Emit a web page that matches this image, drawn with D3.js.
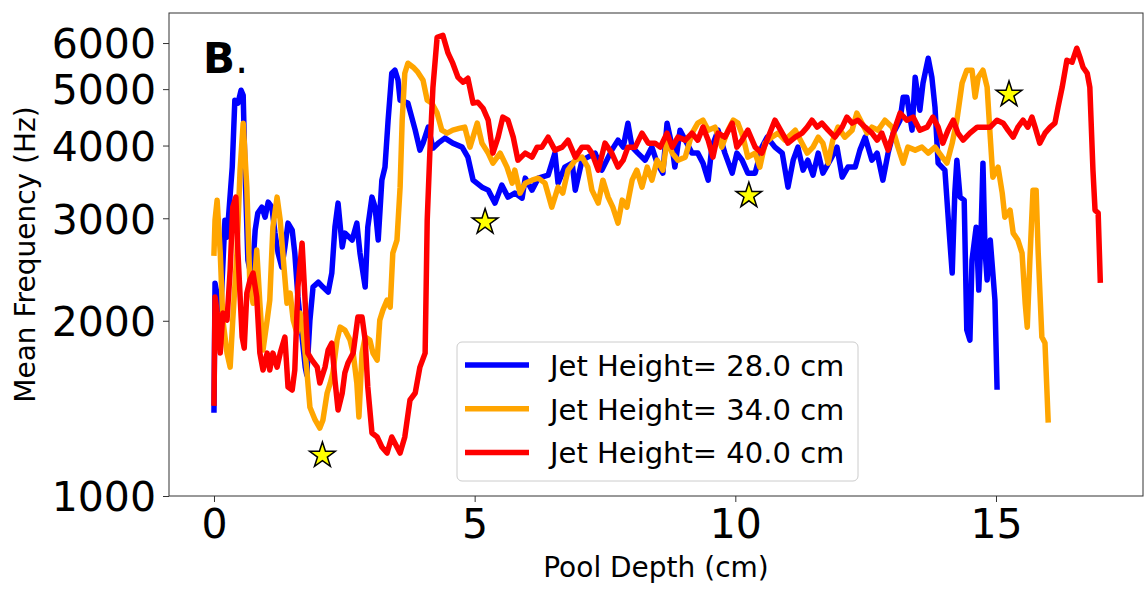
<!DOCTYPE html>
<html>
<head>
<meta charset="utf-8">
<script src="https://cdn.jsdelivr.net/npm/d3@7"></script>
<style>
    body { margin: 0; background: #fff; }
    svg { display: block; font-family: "DejaVu Sans", sans-serif; }
</style>
</head>
<body>
<svg id="graphe" width="1144" height="592"></svg>
<script>
// DONNÉES : [profondeur (cm), fréquence moyenne (Hz)]
const jet28 = [[0,1405],[0.02,2321],[0.08,2170],[0.13,2086],[0.21,2978],[0.25,2784],[0.35,3673],[0.40,4786],[0.46,4730],[0.52,4979],
    [0.56,4880],[0.59,3775],[0.65,2542],[0.73,2349],[0.79,2862],[0.84,3062],[0.92,3135],[0.98,3013],[1.04,3198],[1.11,3135],
    [1.17,2829],[1.23,2614],[1.30,2473],[1.36,2677],[1.42,2943],[1.50,2862],[1.55,2614],[1.61,2197],[1.69,1875],[1.75,1665],
    [1.78,1614],[1.84,2005],[1.90,2285],[2.00,2330],[2.09,2285],[2.19,2240],[2.26,2415],[2.32,2896],[2.38,3185],[2.46,2677],
    [2.51,2829],[2.65,2752],[2.74,2943],[2.80,2614],[2.90,2285],[2.95,2896],[3.03,3262],[3.09,3135],[3.15,2752],[3.22,3488],
    [3.28,3673],[3.34,4422],[3.41,5325],[3.47,5389],[3.53,5180],[3.57,4786],[3.72,4730],[3.86,4251],[3.95,3928],[4.01,4038],
    [4.11,4302],[4.20,3959],[4.30,4038],[4.43,4119],[4.58,4038],[4.76,3975],[4.87,3821],[4.97,3488],[5.14,3393],[5.26,3353],
    [5.39,3185],[5.52,3420],[5.64,3262],[5.77,3314],[5.91,3249],[5.97,3516],[6.10,3353],[6.22,3516],[6.41,3558],[6.54,3882],
    [6.60,3447],[6.73,3673],[6.87,3731],[6.93,3353],[7.06,3775],[7.17,3821],[7.31,3882],[7.44,3629],[7.63,3928],[7.75,4086],
    [7.85,3975],[7.94,4370],[8.02,3975],[8.13,3882],[8.27,3775],[8.40,3975],[8.50,3731],[8.61,3586],[8.69,4370],[8.79,3975],
    [8.84,3673],[8.94,4251],[9.04,4086],[9.17,3882],[9.28,3882],[9.38,3731],[9.48,3488],[9.55,3975],[9.67,4251],[9.80,3882],
    [9.94,3586],[10.03,3882],[10.13,3775],[10.24,3586],[10.38,3586],[10.51,3975],[10.61,4135],[10.76,3975],[10.90,3882],[11.01,3393],
    [11.11,3775],[11.20,3975],[11.30,3629],[11.39,3775],[11.49,3558],[11.59,3882],[11.68,3586],[11.82,3775],[11.95,3975],[12.05,3530],
    [12.16,3673],[12.30,3673],[12.39,3928],[12.49,4135],[12.62,3775],[12.72,3882],[12.83,3488],[12.93,3882],[13.03,4201],[13.16,4422],
    [13.22,4844],[13.29,4844],[13.39,4251],[13.45,5241],[13.54,4601],[13.60,5119],[13.70,5651],[13.77,5241],[13.83,4655],[13.89,3731],
    [14.02,3629],[14.10,2862],[14.16,2415],[14.21,3314],[14.25,3775],[14.31,3262],[14.39,3223],[14.44,1928],[14.50,1853],[14.54,2542],
    [14.62,2896],[14.67,2258],[14.71,2752],[14.75,3731],[14.79,2645],[14.83,2349],[14.89,2752],[14.94,2415],[14.98,2170],[15.02,1539]]

const jet34 = [[0,2614],[0.02,2978],[0.06,3223],[0.12,2614],[0.17,2005],[0.25,1760],[0.31,1665],[0.36,2005],[0.44,2614],[0.50,3629],
    [0.56,4370],[0.63,3393],[0.69,2285],[0.75,2144],[0.82,2645],[0.88,2144],[0.94,1781],[1.02,2005],[1.07,2170],[1.13,2896],
    [1.21,3262],[1.27,2978],[1.32,2614],[1.40,2144],[1.46,2231],[1.52,2005],[1.59,1905],[1.65,2062],[1.71,1905],[1.78,1646],
    [1.84,1421],[1.94,1351],[2.03,1308],[2.09,1351],[2.17,1503],[2.23,1563],[2.28,1627],[2.36,1853],[2.42,1950],[2.51,1928],
    [2.61,1853],[2.67,1760],[2.74,1563],[2.78,1367],[2.84,1760],[2.90,1875],[2.99,1853],[3.05,1760],[3.13,1712],[3.18,2005],
    [3.24,2086],[3.32,2170],[3.38,2110],[3.43,2614],[3.51,2752],[3.57,3393],[3.61,4422],[3.66,5325],[3.72,5540],[3.82,5453],
    [3.91,5346],[4.01,5180],[4.09,4786],[4.18,4730],[4.28,4547],[4.37,4251],[4.47,4201],[4.58,4251],[4.72,4285],[4.81,4302],
    [4.91,3975],[5.05,4370],[5.14,4038],[5.26,3882],[5.35,3731],[5.49,3882],[5.62,3673],[5.72,3447],[5.77,3629],[5.87,3314],
    [5.97,3447],[6.10,3488],[6.22,3516],[6.35,3447],[6.48,3135],[6.60,3393],[6.69,3314],[6.79,3629],[6.93,3775],[7.06,3821],
    [7.17,3673],[7.25,3353],[7.37,3185],[7.46,3488],[7.56,3262],[7.65,3135],[7.75,2943],[7.83,3223],[7.92,3135],[8.02,3488],
    [8.11,3629],[8.21,3393],[8.31,3673],[8.40,3488],[8.50,3775],[8.61,3629],[8.69,4086],[8.79,3882],[8.90,3775],[9.04,3821],
    [9.17,4201],[9.28,4370],[9.38,4422],[9.48,4251],[9.61,4302],[9.74,3975],[9.86,4251],[9.96,4422],[10.05,4370],[10.15,4135],
    [10.24,3821],[10.38,3882],[10.47,3673],[10.57,4038],[10.70,4135],[10.82,4201],[10.95,4086],[11.15,4251],[11.28,4038],[11.38,3882],
    [11.49,3975],[11.59,4135],[11.68,4038],[11.78,3731],[11.87,4086],[11.97,4302],[12.10,4135],[12.24,4251],[12.33,4547],[12.43,4370],
    [12.53,4201],[12.62,4302],[12.74,4251],[12.87,4422],[13.01,4302],[13.12,3975],[13.22,3731],[13.31,3975],[13.45,3928],[13.58,3975],
    [13.70,3882],[13.83,3975],[13.97,3821],[14.06,3731],[14.16,4038],[14.25,4422],[14.35,5119],[14.44,5389],[14.54,5389],[14.60,4844],
    [14.66,5241],[14.75,5389],[14.83,5039],[14.89,4135],[14.94,3530],[15.04,3673],[15.12,3314],[15.17,3013],[15.27,3098],[15.33,2829],
    [15.42,2752],[15.50,2614],[15.56,2144],[15.60,1950],[15.65,2542],[15.71,3353],[15.77,3353],[15.81,2614],[15.88,1875],[15.94,1831],
    [16.00,1351]]

const jet40 = [[0,1444],[0.02,2197],[0.08,2005],[0.12,1760],[0.17,2062],[0.25,2005],[0.31,2443],[0.36,3135],[0.42,3262],[0.46,2614],
    [0.54,1875],[0.58,1795],[0.63,2231],[0.69,2349],[0.75,2415],[0.82,2197],[0.88,1760],[0.94,1646],[1.02,1760],[1.07,1646],
    [1.13,1760],[1.21,1665],[1.27,1760],[1.36,1875],[1.42,1539],[1.50,1521],[1.55,1646],[1.61,2285],[1.69,2719],[1.75,2144],
    [1.80,1760],[1.88,1712],[1.98,1665],[2.03,1563],[2.13,1665],[2.19,1781],[2.26,1831],[2.32,1582],[2.38,1405],[2.46,1503],
    [2.51,1627],[2.57,1692],[2.67,1760],[2.76,2030],[2.84,2030],[2.90,1853],[2.95,1539],[3.03,1283],[3.13,1263],[3.22,1214],
    [3.32,1185],[3.41,1263],[3.51,1214],[3.57,1185],[3.66,1263],[3.76,1462],[3.86,1503],[3.95,1665],[4.05,1760],[4.09,2978],
    [4.14,3882],[4.20,5039],[4.28,6138],[4.39,6187],[4.49,5764],[4.58,5540],[4.68,5241],[4.78,5139],[4.87,5220],[4.97,4730],
    [5.06,4748],[5.16,4637],[5.26,4422],[5.35,3882],[5.45,4135],[5.54,4476],[5.64,4422],[5.74,4135],[5.83,3775],[5.97,3882],
    [6.10,3821],[6.20,3975],[6.29,3975],[6.41,4135],[6.54,3928],[6.68,3975],[6.79,4086],[6.93,3821],[7.06,3975],[7.17,3975],
    [7.25,3882],[7.37,3629],[7.50,4038],[7.63,3882],[7.75,3673],[7.85,3775],[7.94,3975],[8.08,3975],[8.21,4201],[8.33,4038],
    [8.46,4038],[8.56,3975],[8.69,4201],[8.79,3975],[8.90,4135],[9.04,4086],[9.17,4201],[9.28,4086],[9.38,4302],[9.48,4086],
    [9.57,3821],[9.67,4201],[9.80,4135],[9.94,4370],[10.03,3975],[10.13,4086],[10.24,4251],[10.38,3975],[10.51,3882],[10.63,4135],
    [10.76,4422],[10.90,4201],[11.01,4038],[11.15,4135],[11.28,4201],[11.38,4302],[11.47,4422],[11.57,4302],[11.66,4370],[11.78,4251],
    [11.91,4135],[12.05,4302],[12.14,4476],[12.24,4370],[12.35,4422],[12.49,4302],[12.62,4201],[12.72,4086],[12.81,4201],[12.93,3928],
    [13.03,4201],[13.16,4547],[13.29,4422],[13.41,4476],[13.54,4251],[13.68,4302],[13.79,4476],[13.89,4302],[13.98,4038],[14.08,4251],
    [14.18,4422],[14.27,4201],[14.37,4086],[14.50,4201],[14.64,4302],[14.75,4302],[14.89,4302],[15.02,4422],[15.14,4370],[15.23,4251],
    [15.33,4135],[15.42,4302],[15.52,4422],[15.61,4302],[15.69,4476],[15.75,4302],[15.84,4038],[15.94,4201],[16.04,4302],[16.13,4370],
    [16.19,4655],[16.27,5039],[16.36,5606],[16.46,5562],[16.55,5878],[16.61,5674],[16.67,5453],[16.75,5325],[16.80,5039],[16.86,3629],
    [16.90,3098],[16.96,3062],[17.00,2349]]

// Étoiles jaunes
const etoilesProfondeur = [2.08, 5.20, 10.26, 15.25]
const etoilesFrequence = [1174, 2955, 3281, 4894]

const ticksX = [0, 5, 10, 15]
const ticksY = [1000, 2000, 3000, 4000, 5000, 6000]
const seriesLegende = ['Jet Height= 28.0 cm', 'Jet Height= 34.0 cm', 'Jet Height= 40.0 cm']
const couleurs = ['#0000ff', '#ffa500', '#ff0000']

// DESSIN
const svg = d3.select('#graphe')
const gauche = 169, droite = 1143, haut = 13, bas = 496

const x = d3.scaleLinear().domain([-0.863, 17.82]).range([gauche, droite])
const y = d3.scaleLog().domain([1000, 6757]).range([bas, haut])

svg.append('defs').append('clipPath').attr('id', 'zone')
    .append('rect')
    .attr('x', gauche).attr('y', haut)
    .attr('width', droite - gauche).attr('height', bas - haut)

// Axes
const axeX = svg.append('g')
    .attr('transform', 'translate(0,' + bas + ')')
    .call(d3.axisBottom(x).tickValues(ticksX).tickSize(6).tickPadding(7).tickFormat(d3.format('d')))
const axeY = svg.append('g')
    .attr('transform', 'translate(' + gauche + ',0)')
    .call(d3.axisLeft(y).tickValues(ticksY).tickSize(6).tickPadding(7).tickFormat(d3.format('d')))

for (const axe of [axeX, axeY]) {
    axe.select('.domain').remove()
    axe.selectAll('line').attr('stroke', '#333').attr('stroke-width', 1)
    axe.selectAll('text')
        .attr('fill', '#000')
        .style('font-family', '"DejaVu Sans"')
        .style('font-size', '41px')
}
axeY.selectAll('text').attr('dy', '0.36em')

// Courbes
const ligne = d3.line().x(d => x(d[0])).y(d => y(d[1]))
const courbes = svg.append('g').attr('clip-path', 'url(#zone)')
const toutesSeries = [jet28, jet34, jet40]
toutesSeries.forEach(function(serie, i) {
    courbes.append('path')
        .datum(serie)
        .attr('d', ligne)
        .attr('fill', 'none')
        .attr('stroke', couleurs[i])
        .attr('stroke-width', 5.5)
        .attr('stroke-linejoin', 'round')
        .attr('stroke-linecap', 'square')
})

// Étoiles
const etoile = d3.symbol().type(d3.symbolStar).size(205)
etoilesProfondeur.forEach(function(p, i) {
    svg.append('path')
        .attr('d', etoile)
        .attr('transform', 'translate(' + x(p) + ',' + y(etoilesFrequence[i]) + ')')
        .attr('fill', '#ffff00')
        .attr('stroke', '#000')
        .attr('stroke-width', 1.5)
        .attr('stroke-linejoin', 'miter')
})

// Cadre
svg.append('rect')
    .attr('x', gauche).attr('y', haut)
    .attr('width', droite - gauche).attr('height', bas - haut)
    .attr('fill', 'none')
    .attr('stroke', '#333')
    .attr('stroke-width', 1)

// Titres des axes
svg.append('text')
    .attr('x', (gauche + droite) / 2).attr('y', 577)
    .attr('text-anchor', 'middle')
    .style('font-size', '28px')
    .text('Pool Depth (cm)')
svg.append('text')
    .attr('transform', 'translate(35,' + (haut + bas) / 2 + ') rotate(-90)')
    .attr('text-anchor', 'middle')
    .style('font-size', '28px')
    .text('Mean Frequency (Hz)')

// Lettre du panneau
const lettre = svg.append('text').attr('x', 203).attr('y', 73).style('font-size', '42px')
lettre.append('tspan').style('font-weight', 'bold').text('B')
lettre.append('tspan').text('.')

// Légende
const legende = svg.append('g')
legende.append('rect')
    .attr('x', 457).attr('y', 342)
    .attr('width', 401).attr('height', 139)
    .attr('rx', 5)
    .attr('fill', '#fff').attr('fill-opacity', 0.8)
    .attr('stroke', '#cccccc').attr('stroke-width', 1)
seriesLegende.forEach(function(nom, i) {
    const yLigne = 365 + i * 43.7
    legende.append('line')
        .attr('x1', 465).attr('x2', 529)
        .attr('y1', yLigne).attr('y2', yLigne)
        .attr('stroke', couleurs[i])
        .attr('stroke-width', 5.5)
    legende.append('text')
        .attr('x', 550).attr('y', yLigne + 11)
        .style('font-size', '29px')
        .text(nom)
})
</script>
</body>
</html>
